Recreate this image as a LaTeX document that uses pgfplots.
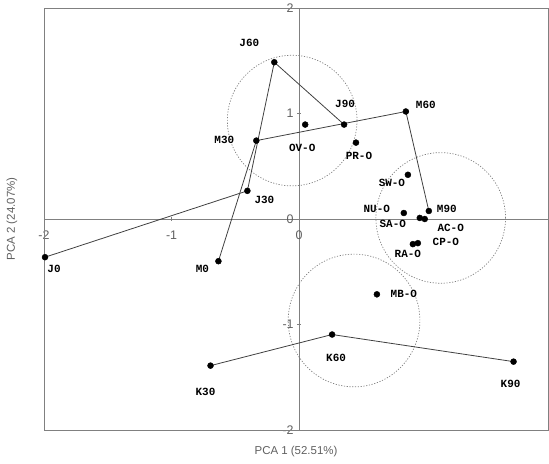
\documentclass[border=0pt]{standalone}
\usepackage{pgfplots}
\pgfplotsset{compat=1.18}
\usepackage{pgfplotstable}
\usepackage{fontspec}
\setmainfont{Liberation Sans}
\newfontfamily\lblfont{Liberation Mono}

\pgfplotstableread{
x y
-1.992 -0.362
-0.406 0.267
-0.195 1.486
0.352 0.895
}\Jser
\pgfplotstableread{
x y
-0.633 -0.400
-0.336 0.743
0.836 1.019
1.016 0.076
}\Mser
\pgfplotstableread{
x y
-0.695 -1.390
0.258 -1.095
1.680 -1.352
}\Kser
\pgfplotstableread{
x y label dx dy
-1.992 -0.362 J0 9 -12
-0.406 0.267 J30 17 -9
-0.195 1.486 J60 -25 19
0.352 0.895 J90 1 21
-0.633 -0.400 M0 -16 -8
-0.336 0.743 M30 -32 1
0.836 1.019 M60 20 7
1.016 0.076 M90 18 2
-0.695 -1.390 K30 -5 -26
0.258 -1.095 K60 4 -23
1.680 -1.352 K90 -3 -22
0.047 0.895 OV-O -3 -23
0.445 0.724 PR-O 3 -13
0.852 0.419 SW-O -16 -8
0.820 0.057 NU-O -27 4
0.945 0.010 SA-O -27 -6
0.984 0.000 AC-O 26 -9
0.930 -0.229 CP-O 28 1
0.891 -0.238 RA-O -5 -10
0.609 -0.714 MB-O 27 0
}\pts

\definecolor{axgray}{HTML}{808080}
\definecolor{txtgray}{HTML}{606060}
\definecolor{lngray}{HTML}{404040}

\begin{document}
\begin{tikzpicture}
\begin{axis}[
  scale only axis,
  width=504bp, height=422bp,
  xmin=-2, xmax=1.95, ymin=-2, ymax=2,
  axis lines=middle,
  axis line style={-, axgray, line width=0.8pt},
  xtick={-2,-1,0}, ytick={-2,-1,0,1,2},
  hide obscured x ticks=false, hide obscured y ticks=false,
  tick style={axgray, line width=0.6pt},
  major tick length=4bp,
  /pgf/number format/assume math mode=true,
  tick label style={font=\fontsize{12.5}{12.5}\selectfont, text=txtgray},
  xticklabel style={yshift=-6bp},
  clip=false,
]
\draw[axgray, line width=0.8pt] (rel axis cs:0,0) rectangle (rel axis cs:1,1);
\draw[axgray, dash pattern=on 1.2pt off 1.6pt, line width=0.7pt] (axis cs:-0.055,0.933) ellipse [x radius=0.508, y radius=0.619];
\draw[axgray, dash pattern=on 1.2pt off 1.6pt, line width=0.7pt] (axis cs:1.109,0.010) ellipse [x radius=0.508, y radius=0.619];
\draw[axgray, dash pattern=on 1.2pt off 1.6pt, line width=0.7pt] (axis cs:0.430,-0.962) ellipse [x radius=0.516, y radius=0.629];
\addplot[lngray, line width=0.8pt, no marks] table {\Jser};
\addplot[lngray, line width=0.8pt, no marks] table {\Mser};
\addplot[lngray, line width=0.8pt, no marks] table {\Kser};
\addplot[only marks, mark=*, mark size=3bp, black,
  point meta=explicit symbolic,
  visualization depends on={\thisrow{dx}\as\dx},
  visualization depends on={\thisrow{dy}\as\dy},
  nodes near coords,
  every node near coord/.append style={anchor=center, inner sep=0pt,
     xshift=\dx bp, yshift=\dy bp, text=black,
     font=\lblfont\bfseries\fontsize{11}{11}\selectfont}
] table[meta=label] {\pts};
\node[text=txtgray, font=\fontsize{11.5}{11.5}\selectfont, rotate=90] at ([xshift=-32bp]rel axis cs:0,0.5) {PCA 2 (24.07\%)};
\node[text=txtgray, font=\fontsize{11.5}{11.5}\selectfont] at ([yshift=-22bp]rel axis cs:0.5,0) {PCA 1 (52.51\%)};
\path ([xshift=-44bp, yshift=-34bp]rel axis cs:0,0) -- ([xshift=1bp, yshift=8bp]rel axis cs:1,1);
\end{axis}
\end{tikzpicture}
\end{document}
